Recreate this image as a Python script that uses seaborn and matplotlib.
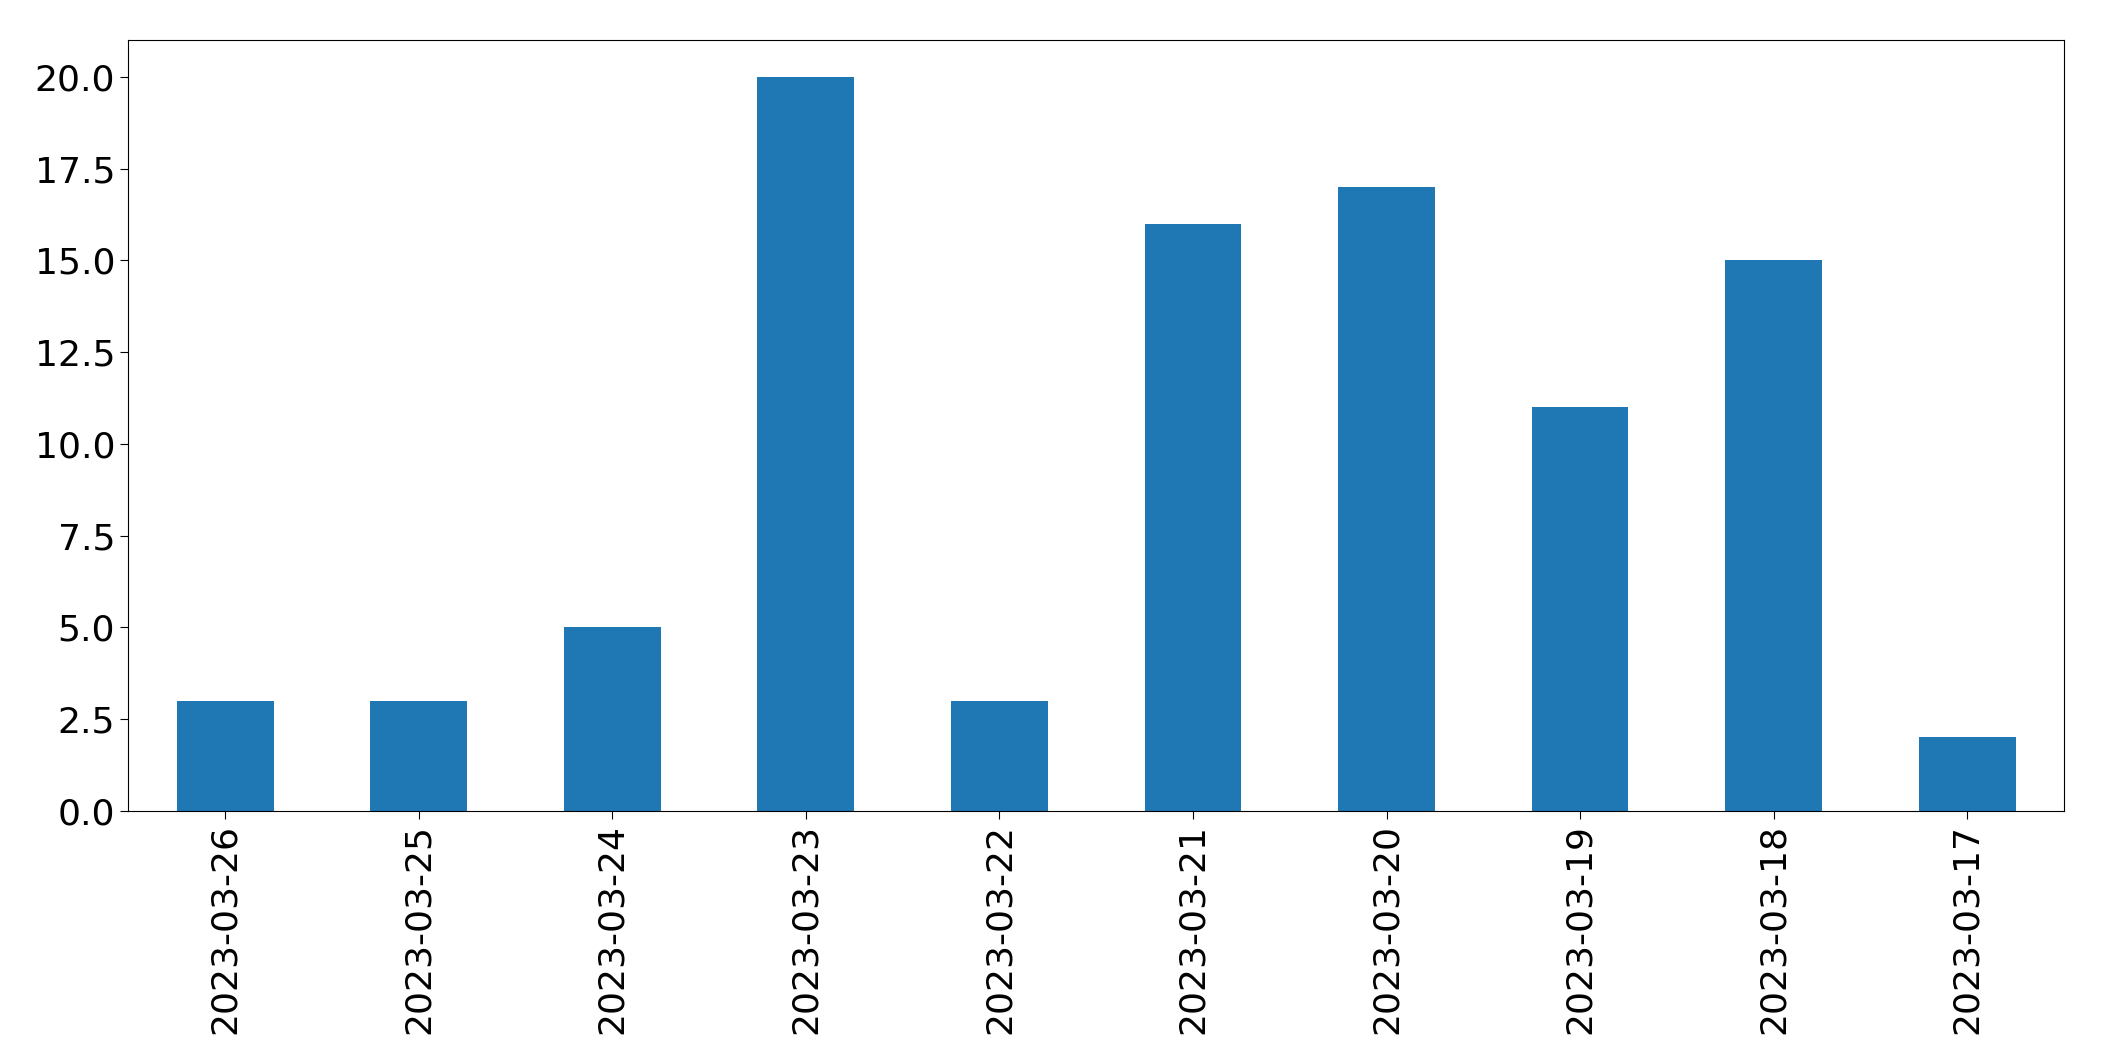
import pandas as pd
import matplotlib
matplotlib.use("Agg")
import matplotlib.pyplot as plt
import seaborn as sns

# Counts per day
dates = ['2023-03-26', '2023-03-25', '2023-03-24', '2023-03-23', '2023-03-22',
         '2023-03-21', '2023-03-20', '2023-03-19', '2023-03-18', '2023-03-17']
counts = [3, 3, 5, 20, 3, 16, 17, 11, 15, 2]

df = pd.DataFrame({'date': dates, 'count': counts})

fig = plt.figure(figsize=(21.04, 10.61), dpi=100)
ax = fig.add_axes([0.061, 0.236, 0.92, 0.726])
sns.barplot(data=df, x='date', y='count', color='#1f77b4', saturation=1,
            width=0.5, linewidth=0, ax=ax)
ax.set_xlim(-0.5, len(dates) - 0.5)
ax.set_xlabel("")
ax.set_ylabel("")
ax.tick_params(axis='both', labelsize=26, length=6)
plt.setp(ax.get_xticklabels(), rotation=90)
plt.savefig("out.png")
plt.close()
